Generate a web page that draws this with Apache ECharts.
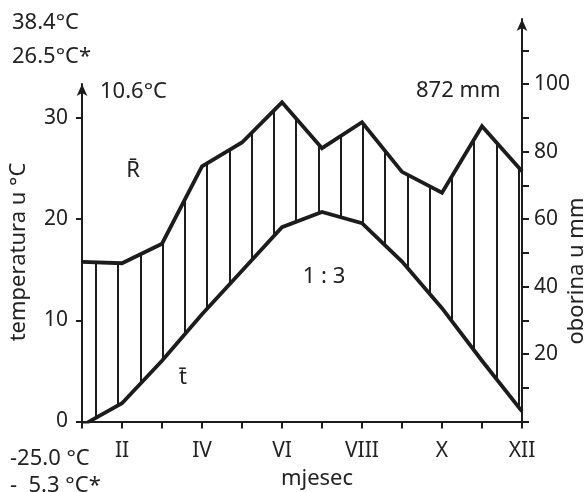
<!DOCTYPE html>
<html>
<head>
<meta charset="utf-8">
<script src="https://cdn.jsdelivr.net/npm/echarts@6/dist/echarts.min.js"></script>
<style>html,body{margin:0;padding:0;background:#fff}#c{width:585px;height:492px}</style>
</head>
<body>
<div id="c"></div>
<script>
// ---- data ----
const months = ['I','II','III','IV','V','VI','VII','VIII','IX','X','XI','XII'];
const tempC = [-0.4, 1.8, 6.0, 10.6, 14.9, 19.2, 20.7, 19.6, 15.8, 11.2, 6.0, 1.0];
const precipMm = [47.3, 46.9, 52.7, 75.6, 82.7, 94.6, 81.0, 88.7, 74.0, 67.8, 87.5, 74.2];
const tempTicks = [0, 10, 20, 30];
const precipTicks = [0, 10, 20, 30, 40, 50, 60, 70, 80, 90, 100, 110];
const precipLabels = [20, 40, 60, 80, 100];

// ---- style ----
const FONT = 'Noto Sans';
const INK = '#1c1c1c';
const TXT = '#222';
const FS = 22;      // annotation text
const AFS = 21;     // axis labels

const precipMax = 119.3;            // top of mm axis
const tempMaxHidden = precipMax / 3; // 1 : 3
const tempMaxLeft = 33.35;

// hatch pattern
const pc = document.createElement('canvas');
pc.width = 89; pc.height = 8;
const pctx = pc.getContext('2d');
pctx.fillStyle = INK;
[6, 28, 51, 73].forEach(x => pctx.fillRect(x, 0, 2, 8));

const chart = echarts.init(document.getElementById('c'), null, {renderer: 'canvas'});

function txt(text, x, y, align, extra) {
  return Object.assign({
    type: 'text', x: x, y: y, z: 100,
    style: {text: text, fill: TXT, font: FS + 'px "' + FONT + '"', align: align || 'left', verticalAlign: 'middle'}
  }, extra || {});
}

const axisLineStyle = {color: INK, width: 2};

chart.setOption({
  backgroundColor: '#ffffff',
  animation: false,
  grid: [
    {left: 82, right: 63, top: 19, bottom: 70.5},
    {left: 82, right: 63, top: 84, bottom: 70.5}
  ],
  xAxis: [
    {
      gridIndex: 0, type: 'category', data: months, boundaryGap: false, z: 5,
      axisLine: {show: true, lineStyle: axisLineStyle},
      axisTick: {show: true, length: 7, interval: 0, lineStyle: {color: INK, width: 2}},
      axisLabel: {
        interval: (i) => i % 2 === 1,
        color: TXT, fontFamily: FONT, fontSize: AFS, margin: 19
      },
      splitLine: {show: false}
    },
    {gridIndex: 1, type: 'category', data: months, boundaryGap: false, show: false}
  ],
  yAxis: [
    {gridIndex: 0, type: 'value', min: 0, max: tempMaxHidden, show: false, splitLine: {show: false}},
    {
      gridIndex: 0, type: 'value', position: 'right', min: 0, max: precipMax, z: 5,
      axisLine: {show: true, lineStyle: axisLineStyle, symbol: ['none', 'arrow'], symbolSize: [8, 12]},
      axisTick: {show: true, length: 7, customValues: precipTicks, lineStyle: {color: INK, width: 2}},
      axisLabel: {customValues: precipLabels, color: TXT, fontFamily: FONT, fontSize: AFS, margin: 12},
      splitLine: {show: false}
    },
    {
      gridIndex: 1, type: 'value', position: 'left', min: 0, max: tempMaxLeft, z: 5,
      axisLine: {show: true, lineStyle: axisLineStyle, symbol: ['none', 'arrow'], symbolSize: [8, 12]},
      axisTick: {show: true, length: 6, customValues: tempTicks, lineStyle: {color: INK, width: 2}},
      axisLabel: {customValues: tempTicks, color: TXT, fontFamily: FONT, fontSize: AFS, margin: 14},
      splitLine: {show: false}
    }
  ],
  series: [
    {
      name: 'oborina', type: 'line', xAxisIndex: 0, yAxisIndex: 1, data: precipMm,
      symbol: 'none', lineStyle: {color: INK, width: 3.8, join: 'miter'},
      areaStyle: {color: {image: pc, repeat: 'repeat'}, opacity: 1, origin: 'start'},
      z: 2
    },
    {
      name: 'temperatura', type: 'line', xAxisIndex: 0, yAxisIndex: 0, data: tempC,
      symbol: 'none', lineStyle: {color: INK, width: 3.8, join: 'miter'},
      areaStyle: {color: '#ffffff', opacity: 1, origin: 'start'},
      z: 3
    }
  ],
  graphic: [
    txt('38.4°C', 12, 23),
    txt('26.5°C*', 12, 57),
    txt('10.6°C', 100, 92),
    txt('872 mm', 416, 91),
    txt('R\u0304', 133, 171, 'center'),
    txt('t\u0304', 183, 378, 'center'),
    txt('1 : 3', 324, 277, 'center'),
    txt('-25.0 °C', 10, 459),
    txt('-  5.3 °C*', 10, 486),
    txt('mjesec', 317, 479, 'center'),
    txt('temperatura u °C', 19, 252, 'center', {rotation: Math.PI / 2}),
    txt('oborina u mm', 577, 271, 'center', {rotation: Math.PI / 2})
  ]
});
</script>
</body>
</html>
